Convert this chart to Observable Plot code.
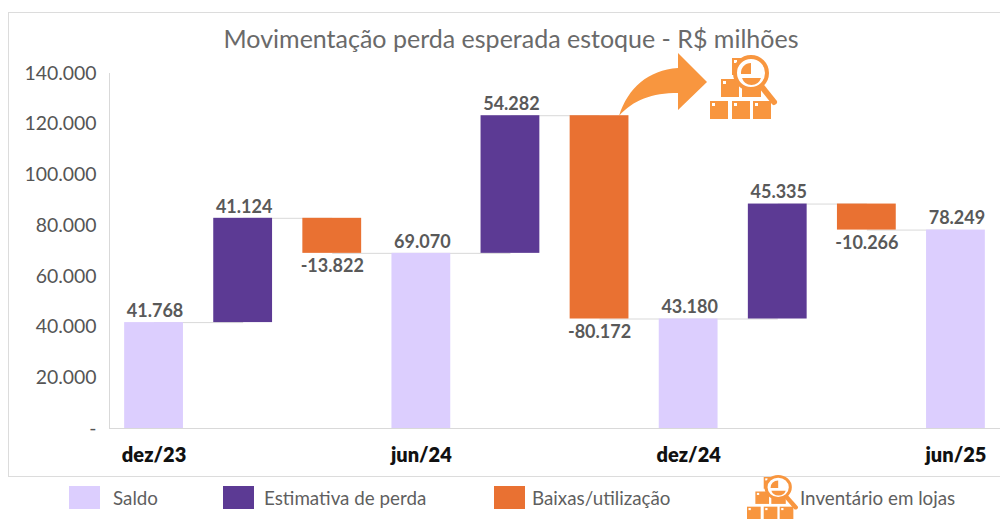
<!DOCTYPE html>
<html lang="pt-BR">
<head>
<meta charset="utf-8">
<script src="https://cdn.jsdelivr.net/npm/d3@7"></script>
<script src="https://cdn.jsdelivr.net/npm/@observablehq/plot@0.6"></script>
<style>
html,body{margin:0;padding:0;background:#fff;overflow:hidden}
#root{position:relative;width:1000px;height:519px;font-family:Lato,sans-serif;overflow:hidden}
#border{position:absolute;left:8px;top:12px;width:1000px;height:465px;border:1px solid #dcdcdc;box-sizing:border-box}
#title{position:relative;height:60px;box-sizing:border-box;padding-top:22px;padding-left:22px;text-align:center;font-size:25px;line-height:32px;color:#6a6a6a;white-space:nowrap}
#chart{position:relative;height:417px}
#chart svg{display:block}
#legend{position:relative;height:42px;margin:0 25px 0 45px;background:#fff;width:930px}
.sw{position:absolute;top:9px;width:31px;height:23px}
.lt{position:absolute;top:10px;font-size:18.8px;line-height:22px;color:#5f5f5f;white-space:nowrap}
#deco{position:absolute;left:0;top:0;pointer-events:none}
</style>
</head>
<body>
<div id="root">
  <div id="border"></div>
  <div id="title">Movimentação perda esperada estoque - R$ milhões</div>
  <div id="chart"></div>
  <div id="legend"></div>
  <svg id="deco" width="1000" height="519" viewBox="0 0 1000 519">
    <defs>
      <g id="inv" fill="#F8963F">
        <rect x="710" y="101" width="18" height="18"/>
        <rect x="732" y="101" width="18" height="18"/>
        <rect x="753" y="101" width="18" height="18"/>
        <rect x="721" y="79" width="18" height="18"/>
        <rect x="742" y="88" width="19" height="9"/>
        <rect x="732" y="58" width="12" height="17"/>
        <g fill="#fff">
          <rect x="712" y="103" width="3" height="3"/>
          <rect x="734" y="103" width="3" height="3"/>
          <rect x="755" y="103" width="3" height="3"/>
          <rect x="723" y="81" width="3" height="3"/>
          <rect x="734" y="60" width="3" height="3"/>
        </g>
        <circle cx="751" cy="73" r="16" fill="#fff" stroke="#F8963F" stroke-width="4"/>
        <path d="M751 63v11h-10a10 10 0 0 1 10-11z"/>
        <path d="M742 78h19a10 10 0 0 1-19 0z"/>
        <path d="M762 87l12 15" stroke="#F8963F" stroke-width="6" stroke-linecap="round" fill="none"/>
      </g>
    </defs>
    <path d="M619 116C628 88 648 70 678 68V53L707 82L678 110V93C652 93 633 100 619 116Z" fill="#F8963F"/>
    <use href="#inv"/>
    <use href="#inv" transform="translate(747 477) scale(0.76 0.69) translate(-710 -58)"/>
  </svg>
</div>
<script>
const steps = ["s0","a1","b1","s1","a2","b2","s2","a3","b3","s3"];
const kinds = ["Saldo","Estimativa de perda","Baixas/utilização","Saldo","Estimativa de perda","Baixas/utilização","Saldo","Estimativa de perda","Baixas/utilização","Saldo"];
const values = [41768,41124,-13822,69070,54282,-80172,43180,45335,-10266,78249];
const periodLabels = {s0:"dez/23",s1:"jun/24",s2:"dez/24",s3:"jun/25"};
const yTicks = [0,20000,40000,60000,80000,100000,120000,140000];
const legendNames = ["Saldo","Estimativa de perda","Baixas/utilização"];
const legendColors = ["#DCCEFE","#5C3A94","#E97132"];

const fmt = v => (v < 0 ? "-" : "") + d3.format(",")(Math.abs(v)).replace(/,/g,".");

// Build the waterfall from the readings
const rows = [];
let level = 0;
values.forEach((v,i)=>{
  const saldo = kinds[i] === "Saldo";
  const start = saldo ? 0 : level;
  const end = saldo ? v : level + v;
  rows.push({step:steps[i],kind:kinds[i],value:v,y1:start,y2:end,top:Math.max(start,end),bottom:Math.min(start,end)});
  level = end;
});
const links = rows.slice(0,-1).map((r,i)=>({a:r.step,b:rows[i+1].step,y:r.y2}));

const chart = Plot.plot({
  width:1000,height:417,
  marginLeft:109,marginRight:0,marginTop:13,marginBottom:49,
  style:{fontFamily:"Lato, sans-serif",background:"transparent"},
  x:{domain:steps,paddingInner:0.34,paddingOuter:0.17,align:0.5,round:false,label:null},
  y:{domain:[0,140000],label:null},
  color:{domain:legendNames,range:legendColors},
  marks:[
    Plot.frame({anchor:"left",stroke:"#d9d9d9"}),
    Plot.frame({anchor:"bottom",stroke:"#d9d9d9"}),
    Plot.link(links,{x1:"a",x2:"b",y1:"y",y2:"y",stroke:"#d9d9d9",strokeWidth:1}),
    Plot.barY(rows,{x:"step",y1:"y1",y2:"y2",fill:"kind"}),
    Plot.text(rows.filter(d=>d.value>=0),{x:"step",y:"top",text:d=>fmt(d.value),dy:-11.5,dx:1,fontSize:18,fontWeight:700,fill:"#595959"}),
    Plot.text(rows.filter(d=>d.value<0),{x:"step",y:"bottom",text:d=>fmt(d.value),dy:13,fontSize:18,fontWeight:700,fill:"#595959"}),
    Plot.axisY({ticks:yTicks,tickSize:0,tickPadding:13,fontSize:19.4,fill:"#555",tickFormat:d=>d===0?"-":fmt(d),label:null}),
    Plot.axisX({ticks:Object.keys(periodLabels),tickSize:0,tickPadding:19,fontSize:20,fontWeight:800,fill:"#111",tickFormat:d=>periodLabels[d],label:null})
  ]
});
document.getElementById("chart").appendChild(chart);

const legend = document.getElementById("legend");
const swX = [24,178,449], txX = [68,219,487];
legendNames.forEach((n,i)=>{
  const s=document.createElement("div");s.className="sw";s.style.left=swX[i]+"px";s.style.background=legendColors[i];legend.appendChild(s);
  const t=document.createElement("div");t.className="lt";t.style.left=txX[i]+"px";t.textContent=n;legend.appendChild(t);
});
const inv=document.createElement("div");inv.className="lt";inv.style.left="755px";inv.textContent="Inventário em lojas";legend.appendChild(inv);
</script>
</body>
</html>
